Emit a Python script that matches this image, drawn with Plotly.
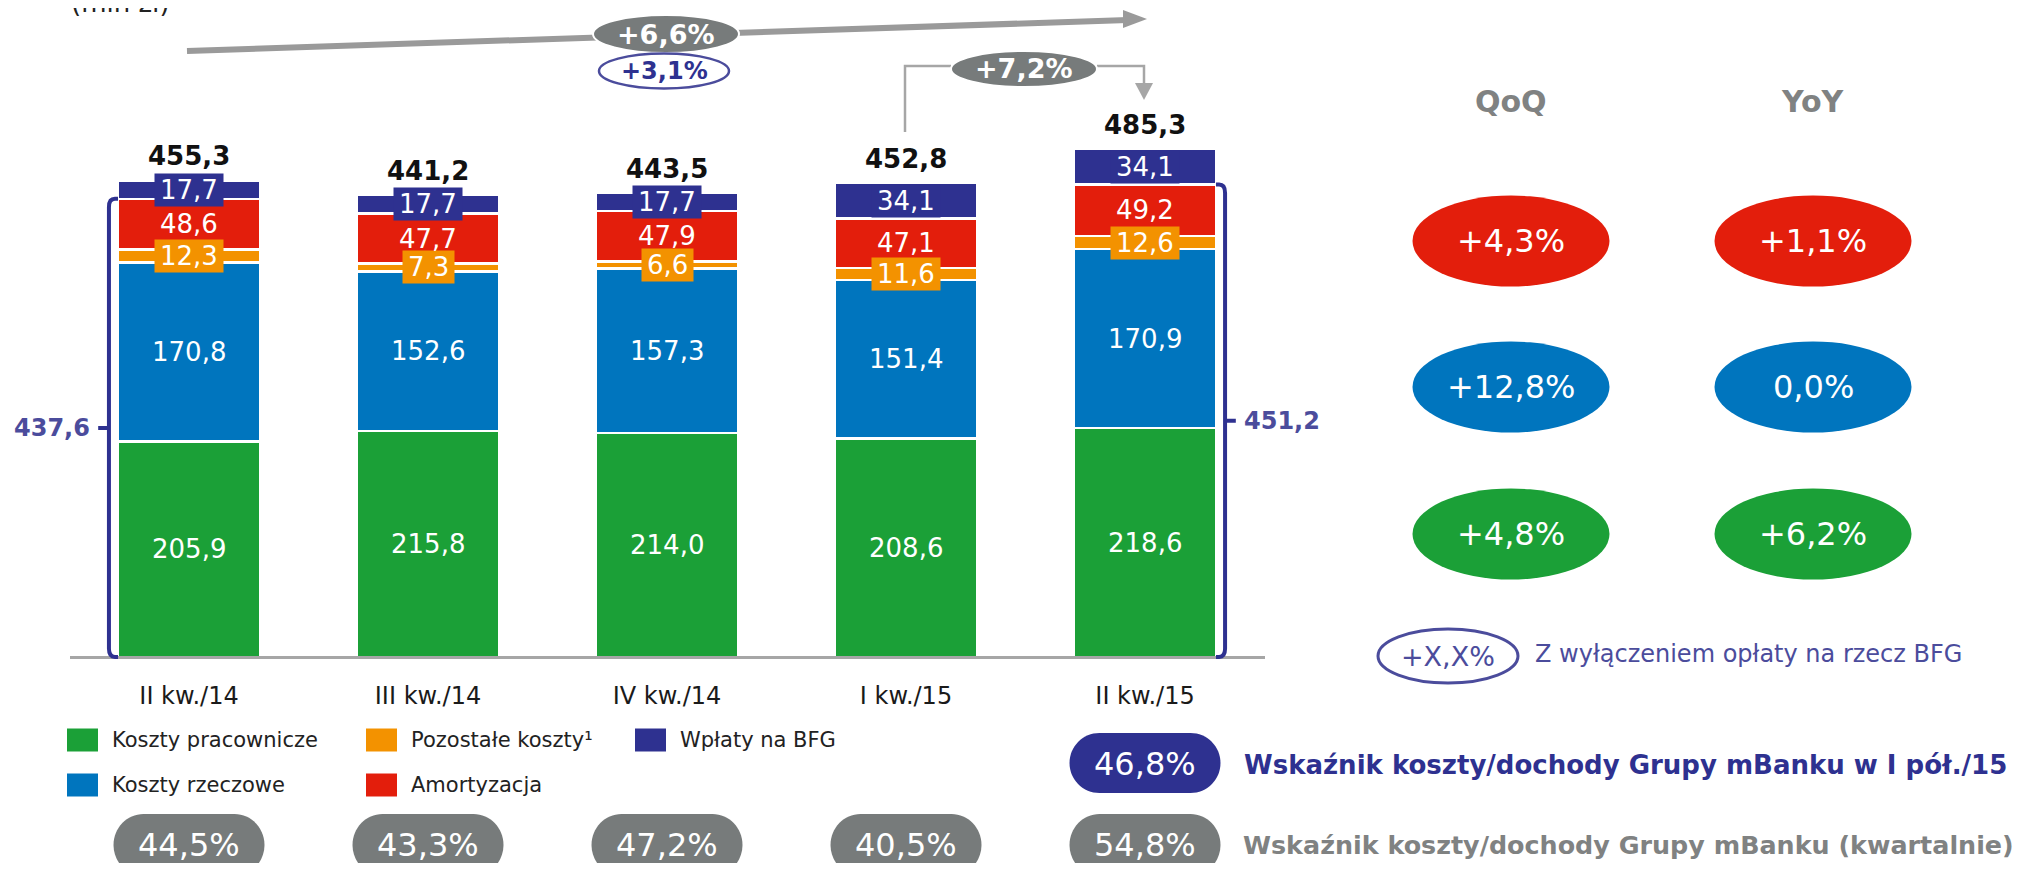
import plotly.graph_objects as go

# --- data (mln zł) ---
quarters = ["II kw./14", "III kw./14", "IV kw./14", "I kw./15", "II kw./15"]
koszty_pracownicze = [205.9, 215.8, 214.0, 208.6, 218.6]
koszty_rzeczowe = [170.8, 152.6, 157.3, 151.4, 170.9]
pozostale_koszty = [12.3, 7.3, 6.6, 11.6, 12.6]
amortyzacja = [48.6, 47.7, 47.9, 47.1, 49.2]
wplaty_bfg = [17.7, 17.7, 17.7, 34.1, 34.1]
totals = [455.3, 441.2, 443.5, 452.8, 485.3]
totals_ex_bfg = [437.6, 451.2]          # II kw./14, II kw./15
cost_income_q = [44.5, 43.3, 47.2, 40.5, 54.8]
cost_income_h1 = 46.8
growth_yoy_total = 6.6
growth_yoy_ex_bfg = 3.1
growth_qoq_total = 7.2
qoq = [4.3, 12.8, 4.8]                  # amortyzacja, rzeczowe, pracownicze
yoy = [1.1, 0.0, 6.2]

FONT = "DejaVu Sans"
GREEN, BLUE, ORANGE, RED, NAVY = "#1ba037", "#0075be", "#f39200", "#e31e0c", "#2e3190"
GREY = "#777b7b"
LILAC = "#4b4c9c"

series = [
    ("Koszty pracownicze", koszty_pracownicze, GREEN, False),
    ("Koszty rzeczowe", koszty_rzeczowe, BLUE, False),
    ("Pozostałe koszty¹", pozostale_koszty, ORANGE, True),
    ("Amortyzacja", amortyzacja, RED, False),
    ("Wpłaty na BFG", wplaty_bfg, NAVY, True),
]

# page geometry (body keeps its 8px margin)
W, H, OFF = 2012, 855, 8
K = 1.047        # px per mln zł
BASE = 657       # baseline in page px
SLOT = 239       # px per category


def px(x):
    return (x - OFF) / W


def py(y):
    return 1 - (y - OFF) / H


def fmt(v):
    return f"{v:.1f}".replace(".", ",")


def pct(v):
    s = fmt(v) + "%"
    return "+" + s if v > 0 else s


def text_w(s, size=26):
    return sum(0.636 if c.isdigit() else 0.318 for c in s) * size + 10


def pill(cx, cy, hw, hh, rx, ry):
    k = 0.5523
    x0, x1 = cx - hw + rx, cx + hw - rx
    t, b = cy + hh, cy - hh
    pts = [
        f"M {x0},{t}", f"L {x1},{t}",
        f"C {x1 + k * rx},{t} {x1 + rx},{cy + k * ry} {x1 + rx},{cy}",
        f"C {x1 + rx},{cy - k * ry} {x1 + k * rx},{b} {x1},{b}",
        f"L {x0},{b}",
        f"C {x0 - k * rx},{b} {x0 - rx},{cy - k * ry} {x0 - rx},{cy}",
        f"C {x0 - rx},{cy + k * ry} {x0 - k * rx},{t} {x0},{t}", "Z",
    ]
    return " ".join(pts)


fig = go.Figure()
xs = list(range(len(quarters)))
for name, vals, color, _ in series:
    fig.add_trace(go.Bar(x=xs, y=vals, name=name, width=0.594,
                         marker=dict(color=color, line=dict(color="white", width=2.5)),
                         showlegend=False, hoverinfo="skip"))

ann = []
shapes = []

# segment labels
for i in xs:
    base = 0
    for name, vals, color, boxed in series:
        v = vals[i]
        a = dict(x=i, y=base + v / 2, xref="x", yref="y", text=fmt(v), showarrow=False,
                 xanchor="center", yanchor="middle",
                 font=dict(family=FONT, size=26, color="white"))
        if boxed:
            a.update(bgcolor=color, width=text_w(fmt(v)), height=32, borderpad=0)
        ann.append(a)
        base += v
    ann.append(dict(x=i, y=totals[i], xref="x", yref="y", yshift=24, text=fmt(totals[i]),
                    showarrow=False, xanchor="center", yanchor="middle",
                    font=dict(family=FONT, size=26, color="#111111", weight="bold")))

# brackets: totals without BFG
for (bar, val, side) in [(0, totals_ex_bfg[0], -1), (4, totals_ex_bfg[1], 1)]:
    e = bar + side * 0.297
    v = bar + side * 0.335
    t = bar + side * 0.38
    r = 0.025 * side
    shapes.append(dict(type="path", xref="x", yref="y", line=dict(color=NAVY, width=4),
                       path=(f"M {e},{val} L {v - r},{val} Q {v},{val} {v},{val - 8} "
                             f"L {v},8 Q {v},0 {v - r},0 L {e},0 "
                             f"M {v},{val / 2} L {t},{val / 2}")))
    ann.append(dict(x=t, y=val / 2, xref="x", yref="y", xshift=6 * side, yanchor="middle",
                    xanchor="left" if side > 0 else "right", text=fmt(val), showarrow=False,
                    font=dict(family=FONT, size=24, color=LILAC, weight="bold")))

# year-on-year trend arrow
shapes.append(dict(type="line", xref="paper", yref="paper", x0=px(187), y0=py(51),
                   x1=px(1128), y1=py(20), line=dict(color="#9a9a9a", width=6)))
shapes.append(dict(type="path", xref="paper", yref="paper", fillcolor="#9a9a9a",
                   line=dict(width=0),
                   path=f"M {px(1147)},{py(19)} L {px(1123)},{py(10)} L {px(1123)},{py(28)} Z"))
# quarter-on-quarter elbow arrow
shapes.append(dict(type="path", xref="paper", yref="paper", line=dict(color="#a6a6a6", width=2.5),
                   path=(f"M {px(905)},{py(132)} L {px(905)},{py(66)} L {px(951)},{py(66)} "
                         f"M {px(1097)},{py(66)} L {px(1144)},{py(66)} L {px(1144)},{py(86)}")))
shapes.append(dict(type="path", xref="paper", yref="paper", fillcolor="#a6a6a6",
                   line=dict(width=0),
                   path=f"M {px(1144)},{py(100)} L {px(1135)},{py(83)} L {px(1153)},{py(83)} Z"))


def ellipse(cx, cy, w, h, fill, line_color="white", lw=2):
    return dict(type="circle", xref="paper", yref="paper",
                x0=px(cx - w / 2), x1=px(cx + w / 2), y0=py(cy + h / 2), y1=py(cy - h / 2),
                fillcolor=fill, line=dict(color=line_color, width=lw))


def label(x, y, text, size, color, weight="normal", xanchor="center", xref="paper"):
    return dict(x=x, y=y, xref=xref, yref="paper", text=text, showarrow=False,
                xanchor=xanchor, yanchor="middle",
                font=dict(family=FONT, size=size, color=color, weight=weight))


shapes.append(ellipse(666, 34, 146, 38, GREY))
ann.append(label(px(666), py(34), pct(growth_yoy_total), 27, "white", "bold"))
shapes.append(ellipse(664, 71, 130, 35, "white", LILAC, 2.5))
ann.append(label(px(664), py(71), pct(growth_yoy_ex_bfg), 24, NAVY, "bold"))
shapes.append(ellipse(1024, 69, 146, 36, GREY))
ann.append(label(px(1024), py(69), pct(growth_qoq_total), 27, "white", "bold"))

# unit note (cut by the page top)
ann.append(label(px(120), py(3), "(mln zł)", 26, "#222222"))

# QoQ / YoY panel
ann.append(label(px(1511), py(101), "QoQ", 30, "#808282", "bold"))
ann.append(label(px(1813), py(101), "YoY", 30, "#808282", "bold"))
for cy, color, q, y in zip([241, 387, 534], [RED, BLUE, GREEN], qoq, yoy):
    shapes.append(ellipse(1511, cy, 197, 91, color, color, 0))
    shapes.append(ellipse(1813, cy, 197, 91, color, color, 0))
    ann.append(label(px(1511), py(cy), pct(q), 32, "white"))
    ann.append(label(px(1813), py(cy), pct(y), 32, "white"))

shapes.append(ellipse(1448, 656, 140, 54, "white", LILAC, 3))
ann.append(label(px(1448), py(656), "+X,X%", 27, LILAC))
ann.append(label(px(1533), py(654), "Z wyłączeniem opłaty na rzecz BFG", 24, LILAC, xanchor="left"))

# legend drawn by hand (bigger swatches than plotly's legend allows)
legend_pos = [(67, 740), (67, 785), (366, 740), (366, 785), (635, 740)]
for (lx, ly), (name, _, color, _) in zip(legend_pos, series):
    shapes.append(dict(type="rect", xref="paper", yref="paper", x0=px(lx), x1=px(lx + 31),
                       y0=py(ly + 11.5), y1=py(ly - 11.5), fillcolor=color, line=dict(width=0)))
    ann.append(label(px(lx + 43), py(ly), name, 21, "#222222", xanchor="left"))

# cost/income pills
hw, rx = 75.5 / SLOT, 30 / SLOT
for i, v in enumerate(cost_income_q):
    shapes.append(dict(type="path", xref="x", yref="paper", fillcolor=GREY, line=dict(width=0),
                       path=pill(i, py(845), hw, 31 / H, rx, 31 / H)))
    ann.append(label(i, py(845), fmt(v) + "%", 32, "white", xref="x"))
shapes.append(dict(type="path", xref="x", yref="paper", fillcolor=NAVY, line=dict(width=0),
                   path=pill(4, py(763), hw, 30 / H, rx, 30 / H)))
ann.append(label(4, py(764), fmt(cost_income_h1) + "%", 32, "white", xref="x"))
ann.append(label(px(1242), py(765), "Wskaźnik koszty/dochody Grupy mBanku w I pół./15", 26, NAVY,
                 "bold", xanchor="left"))
ann.append(label(px(1241), py(845), "Wskaźnik koszty/dochody Grupy mBanku (kwartalnie)", 25.4,
                 "#808282", "bold", xanchor="left"))

fig.update_layout(
    width=W, height=H, autosize=False,
    margin=dict(l=0, r=0, t=0, b=0),
    paper_bgcolor="white", plot_bgcolor="white",
    barmode="stack", showlegend=False,
    font=dict(family=FONT),
    shapes=shapes, annotations=ann,
    xaxis=dict(domain=[px(69.5), px(1264.5)], range=[-0.5, 4.5], tickvals=xs, ticktext=quarters,
               anchor="free", position=py(BASE), showline=True, linecolor="#a6a6a6", linewidth=2.5,
               showgrid=False, zeroline=False, ticks="", ticklabelstandoff=16,
               tickfont=dict(family=FONT, size=24, color="#1a1a1a")),
    yaxis=dict(domain=[0, 1], range=[-(H + OFF - BASE) / K, (BASE - OFF) / K], visible=False),
)

fig.write_html("out.html")
